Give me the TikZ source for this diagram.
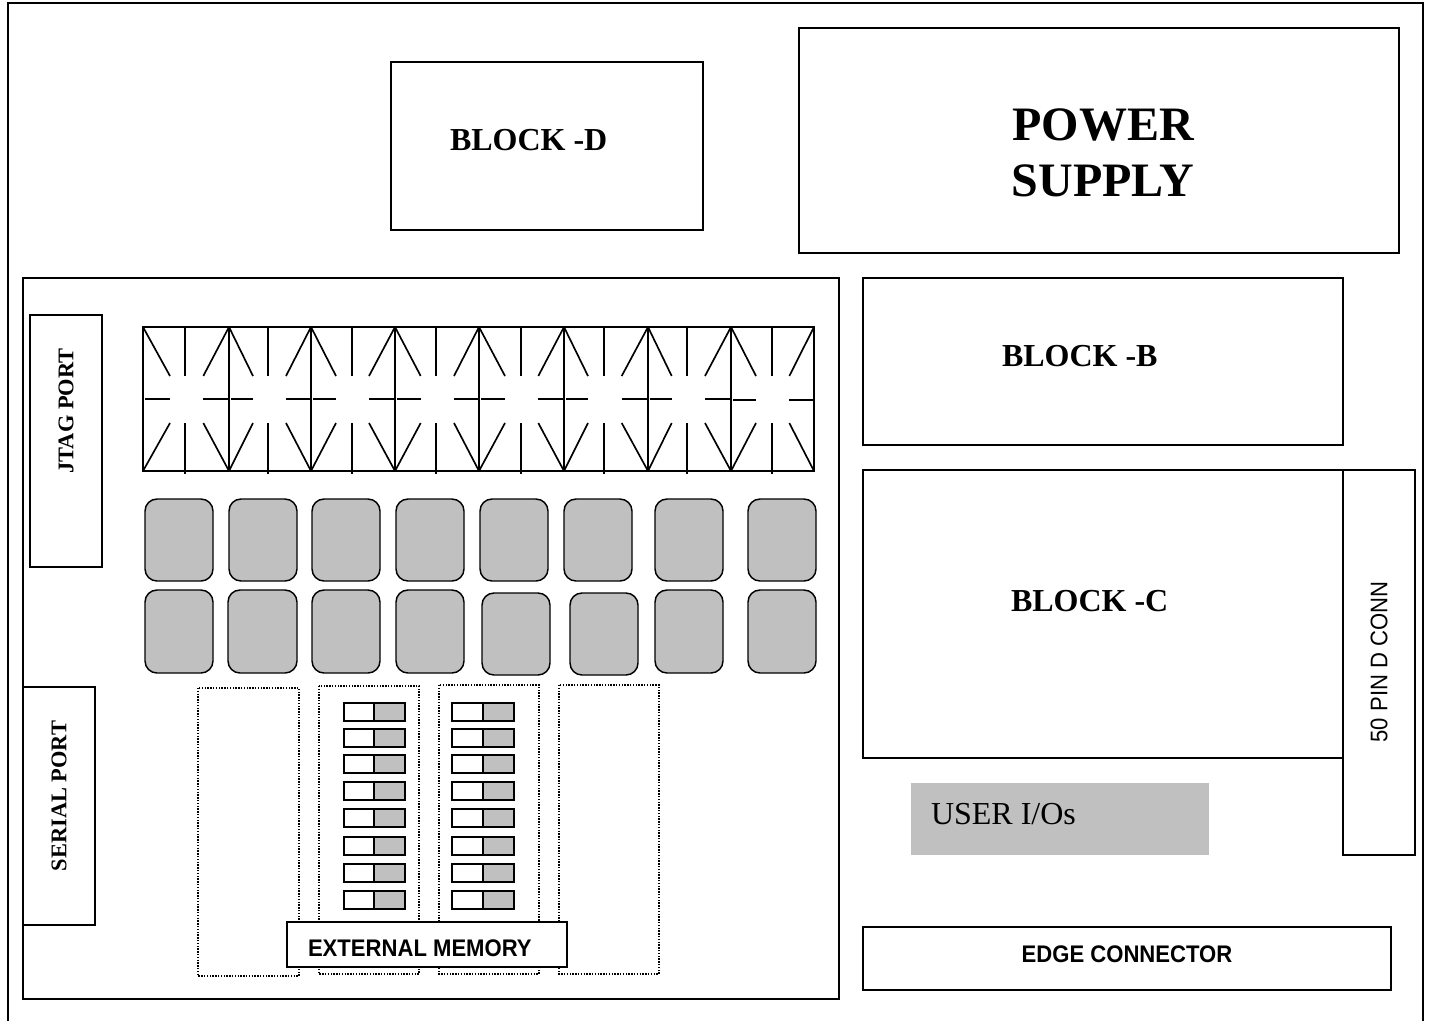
\documentclass[tikz,border=0pt]{standalone}
\usepackage{fontspec}
\setmainfont{Liberation Serif}
\newfontfamily\arialn[FakeStretch=0.92]{Liberation Sans}
\tikzset{
  x=0.75pt,y=-0.75pt,
  every node/.style={inner sep=0pt,outer sep=0pt},
  plain/.style={draw=black,line width=1.25pt,fill=white},
  seg/.style={draw=black,line width=1.25pt},
  key/.style={draw=black,line width=1.1pt,rounded corners=9pt},
  dot/.style={draw=black,line width=1.1pt,densely dotted},
  sw/.style={draw=black,line width=1.1pt},
  big/.style={font=\bfseries\fontsize{36}{42.5}\selectfont,align=center},
  blk/.style={font=\bfseries\fontsize{24}{28}\selectfont},
  prt/.style={font=\bfseries\fontsize{16.8}{19}\selectfont,rotate=90},
  sans/.style={font=\arialn\fontsize{18}{21}\selectfont},
  sansb/.style={font=\arialn\bfseries\fontsize{18}{21}\selectfont},
}
\definecolor{keygray}{RGB}{192,192,192}
\begin{document}
\begin{tikzpicture}
\useasboundingbox (0,0) rectangle (1429,1021);
\fill[white] (0,0) rectangle (1429,1021);
% outer frame
\draw[plain,line width=1.5pt] (8,3) rectangle (1423,1024);
% top blocks
\draw[plain] (391,62) rectangle (703,230);
\node[blk,anchor=west] (bd) at (450,140) {BLOCK -D};
\draw[plain] (799,28) rectangle (1399,253);
\node[big] (ps) at (1103,153) {POWER\\SUPPLY};
% main board
\draw[plain] (23,278) rectangle (839,999);
% right column
\draw[plain] (863,278) rectangle (1343,445);
\node[blk,anchor=west] (bb) at (1002,356) {BLOCK -B};
\draw[plain] (863,470) rectangle (1343,758);
\node[blk,anchor=west] (bc) at (1011,601) {BLOCK -C};
\draw[plain] (1343,470) rectangle (1415,855);
\node[sans,rotate=90] (pin) at (1379,662) {50 PIN D CONN};
\fill[keygray] (911,783) rectangle (1209,855);
\node[anchor=west,font=\fontsize{24}{28}\selectfont] (uio) at (931,814) {USER I/Os};
\draw[plain] (863,927) rectangle (1391,990);
\node[sansb] (ec) at (1127,954) {EDGE CONNECTOR};
% ports
\draw[plain] (30,315) rectangle (102,567);
\node[prt] (jt) at (66,411) {JTAG PORT};
\draw[plain] (23,687) rectangle (95,925);
\node[prt] (sp) at (59,796) {SERIAL PORT};
% display
\draw[plain,fill=none] (143,327) rectangle (814,471);
\foreach \xa/\xb/\tl/\cx/\tr/\my in {143/229/170/185/203.3/399,229/311/253/268.3/286/399,311/395/336/351.7/369/399,395/479/420.7/436/454/399,479/564/505/520.7/538.3/399,564/648/588/604/621.7/399,648/731/671.7/686.7/705/399,731/814/756/771.7/789.3/400}{
  \draw[seg] (\xa,327) -- (\xa,471);
  \draw[seg] (\cx,327) -- (\cx,376) (\cx,423) -- (\cx,474);
  \draw[seg] (\xa,327) -- (\tl,376) (\xb,327) -- (\tr,376);
  \draw[seg] (\xa,471) -- (\tl,423) (\xb,471) -- (\tr,423);
  \draw[seg] (\xa+2,\my) -- (\tl,\my) (\tr,\my) -- (\xb,\my);
}
% keys
\foreach \a/\b/\c/\d in {145/499/213/581,229/499/297/581,312/499/380/581,396/499/464/581,480/499/548/581,564/499/632/581,655/499/723/581,748/499/816/581,
 145/590/213/673,228/590/297/673,312/590/380/673,396/590/464/673,482/593/550/675,570/593/638/675,655/590/723/673,748/590/816/673}{
  \draw[key,fill=keygray] (\a,\b) rectangle (\c,\d);
}
% memory sockets
\draw[dot] (198,688) rectangle (299,976);
\draw[dot] (319,686) rectangle (419,974);
\draw[dot] (439,685) rectangle (539,974);
\draw[dot] (559,685) rectangle (659,974);
% switches
\foreach \ya/\yb in {703/721,729/747,755/773,782/800,809/827,837/855,864/882,891/909}{
  \draw[sw,fill=white] (344,\ya) rectangle (374,\yb);
  \draw[sw,fill=keygray] (374,\ya) rectangle (405,\yb);
  \draw[sw,fill=white] (452,\ya) rectangle (483,\yb);
  \draw[sw,fill=keygray] (483,\ya) rectangle (514,\yb);
}
\draw[plain] (287,922) rectangle (567,967);
\node[sansb,anchor=west] (em) at (308,948) {EXTERNAL MEMORY};
\end{tikzpicture}
\end{document}
